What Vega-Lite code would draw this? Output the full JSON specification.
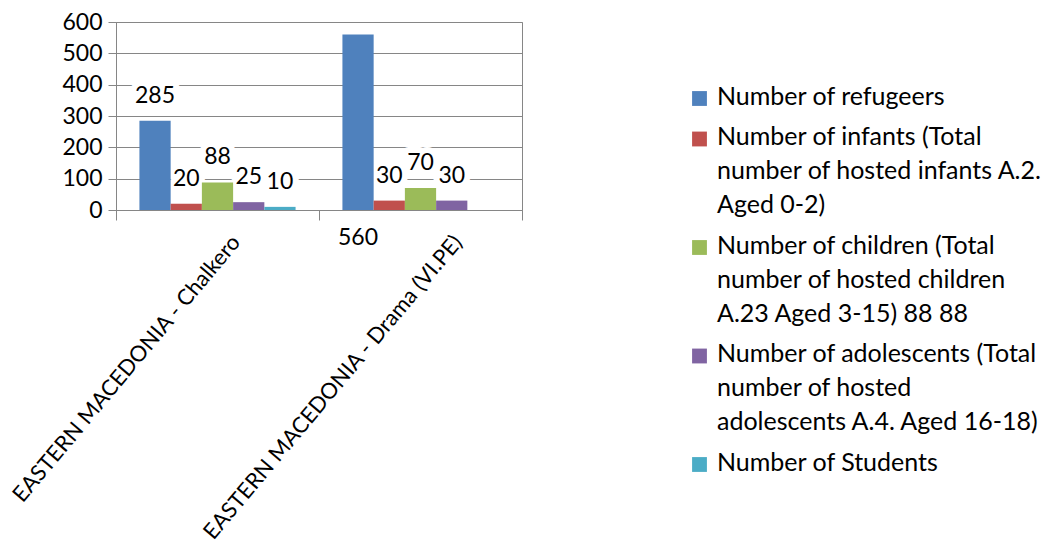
{
  "$schema": "https://vega.github.io/schema/vega-lite/v6.json",
  "autosize": {"type": "none"},
  "padding": {"left": 116, "top": 22, "right": 530, "bottom": 335},
  "width": 406,
  "height": 188,
  "background": "white",
  "config": {
    "font": "Lato",
    "view": {"stroke": "#868686", "strokeWidth": 1},
    "axis": {"labelFont": "Lato", "labelColor": "black", "domainColor": "#868686", "tickColor": "#868686", "gridColor": "#868686"}
  },
  "data": {
    "values": [
      {"site": "EASTERN MACEDONIA - Chalkero", "series": "Number of refugeers", "value": 285},
      {"site": "EASTERN MACEDONIA - Chalkero", "series": "Number of infants (Total number of hosted infants A.2. Aged 0-2)", "value": 20},
      {"site": "EASTERN MACEDONIA - Chalkero", "series": "Number of children (Total number of hosted children A.23 Aged 3-15) 88 88", "value": 88},
      {"site": "EASTERN MACEDONIA - Chalkero", "series": "Number of adolescents (Total number of hosted adolescents A.4. Aged 16-18)", "value": 25},
      {"site": "EASTERN MACEDONIA - Chalkero", "series": "Number of Students", "value": 10},
      {"site": "EASTERN MACEDONIA -  Drama (VI.PE)", "series": "Number of refugeers", "value": 560},
      {"site": "EASTERN MACEDONIA -  Drama (VI.PE)", "series": "Number of infants (Total number of hosted infants A.2. Aged 0-2)", "value": 30},
      {"site": "EASTERN MACEDONIA -  Drama (VI.PE)", "series": "Number of children (Total number of hosted children A.23 Aged 3-15) 88 88", "value": 70},
      {"site": "EASTERN MACEDONIA -  Drama (VI.PE)", "series": "Number of adolescents (Total number of hosted adolescents A.4. Aged 16-18)", "value": 30}
    ]
  },
  "encoding": {
    "x": {
      "field": "site", "type": "nominal", "sort": null,
      "scale": {"paddingInner": 0, "paddingOuter": 0},
      "axis": {
        "title": null, "labelAngle": -50, "labelAlign": "right", "labelBaseline": "middle",
        "labelFontSize": 22, "tickBand": "extent", "tickSize": 10, "labelPadding": 18,
        "labelOffset": {"condition": {"test": "indexof(datum.label, 'Drama') >= 0", "value": 37}, "value": 18},
        "labelLimit": 600, "grid": false
      }
    },
    "xOffset": {
      "field": "series", "type": "nominal", "sort": null,
      "scale": {"paddingInner": 0, "paddingOuter": 0.75}
    },
    "y": {
      "field": "value", "type": "quantitative",
      "scale": {"domain": [0, 600], "nice": false},
      "axis": {"title": null, "values": [0, 100, 200, 300, 400, 500, 600], "labelFontSize": 23, "tickSize": 8, "labelPadding": 6, "grid": true}
    }
  },
  "layer": [
    {
      "transform": [{"filter": "datum.value < 500"}],
      "mark": {"type": "text", "dy": -25, "fontSize": 23, "font": "Lato", "stroke": "white", "strokeWidth": 12, "strokeJoin": "round", "fill": "white", "baseline": "middle"},
      "encoding": {"text": {"field": "value", "type": "quantitative"}}
    },
    {
      "mark": {"type": "bar"},
      "encoding": {
        "color": {
          "field": "series", "type": "nominal",
          "scale": {
            "domain": [
              "Number of refugeers",
              "Number of infants (Total number of hosted infants A.2. Aged 0-2)",
              "Number of children (Total number of hosted children A.23 Aged 3-15) 88 88",
              "Number of adolescents (Total number of hosted adolescents A.4. Aged 16-18)",
              "Number of Students"
            ],
            "range": ["#4F81BD", "#C0504D", "#9BBB59", "#8064A2", "#4BACC6"]
          },
          "legend": {
            "title": null, "orient": "none", "legendX": 571, "legendY": 64,
            "symbolType": "square", "symbolSize": 220, "symbolStrokeWidth": 0,
            "labelFont": "Lato", "labelFontSize": 25, "labelColor": "black", "labelLimit": 400,
            "labelBaseline": "top", "labelOffset": 5, "rowPadding": 14.5,
            "labelExpr": "indexof(datum.label, 'infants') >= 0 ? ['Number of infants (Total', 'number of hosted infants A.2.', 'Aged 0-2)'] : indexof(datum.label, 'children') >= 0 ? ['Number of children (Total', 'number of hosted children', 'A.23 Aged 3-15) 88 88'] : indexof(datum.label, 'adolescents') >= 0 ? ['Number of adolescents (Total', 'number of hosted', 'adolescents A.4. Aged 16-18)'] : datum.label",
            "encode": {"labels": {"update": {"lineHeight": {"value": 34}, "dy": {"value": -14}}}}
          }
        }
      }
    },
    {
      "transform": [{"filter": "datum.value < 500"}],
      "mark": {"type": "text", "dy": -25, "fontSize": 23, "font": "Lato", "color": "black", "baseline": "middle"},
      "encoding": {"text": {"field": "value", "type": "quantitative"}}
    },
    {
      "transform": [{"filter": "datum.value >= 500"}],
      "mark": {"type": "text", "fontSize": 23, "font": "Lato", "color": "black", "baseline": "middle", "clip": false},
      "encoding": {"y": {"datum": -89}, "text": {"field": "value", "type": "quantitative"}}
    }
  ]
}
